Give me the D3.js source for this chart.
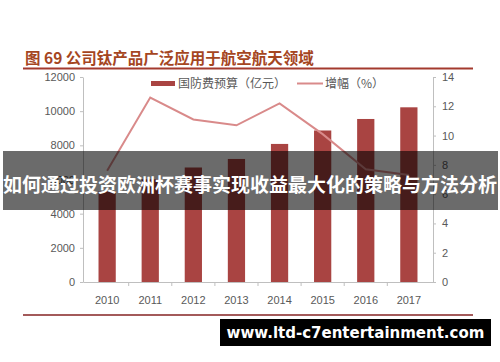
<!DOCTYPE html>
<html>
<head>
<meta charset="utf-8">
<script src="https://cdn.jsdelivr.net/npm/d3@7"></script>
<style>
  body { margin: 0; background: #fff; }
  svg { display: block; }
</style>
</head>
<body>
<div id="chart"></div>
<script>
// data
const years = ["2010", "2011", "2012", "2013", "2014", "2015", "2016", "2017"];
const budget = [5321, 6011, 6703, 7202, 8082, 8869, 9543, 10226];   // 国防费预算（亿元）
const growth = [7.6, 12.6, 11.1, 10.7, 12.2, 10.1, 7.7, 7.3];       // 增幅（%）
const leftTicks = [0, 2000, 4000, 6000, 8000, 10000, 12000];
const rightTicks = [0, 2, 4, 6, 8, 10, 12, 14];

const width = 500, height = 362;
const plot = { left: 83, right: 433, top: 77, bottom: 282 };
const numFont = "'Liberation Sans', Arial, sans-serif";
const cjkFont = "'Noto Sans CJK SC', sans-serif";

const svg = d3.select("#chart").append("svg")
  .attr("width", width)
  .attr("height", height);

const x = d3.scaleBand()
  .domain(years)
  .range([plot.left, plot.right])
  .paddingInner(0.6)
  .paddingOuter(0.36);

const yLeft = d3.scaleLinear().domain([0, 12000]).range([plot.bottom, plot.top]);
const yRight = d3.scaleLinear().domain([0, 14]).range([plot.bottom, plot.top]);

// title + rules
svg.append("text")
  .attr("x", 25).attr("y", 64)
  .style("font-family", cjkFont)
  .style("font-size", "15.5px")
  .style("font-weight", "bold")
  .attr("fill", "#a5461f")
  .text("图 69 公司钛产品广泛应用于航空航天领域");

svg.append("line")
  .attr("x1", 23).attr("x2", 473).attr("y1", 68.5).attr("y2", 68.5)
  .attr("stroke", "#a33a2e").attr("stroke-width", 2);

svg.append("line")
  .attr("x1", 23).attr("x2", 473).attr("y1", 315).attr("y2", 315)
  .attr("stroke", "#a35a5a").attr("stroke-width", 2);

// axes
function styleAxis(g) {
  g.selectAll("path, line").attr("stroke", "#bfbfbf");
  g.selectAll("text")
    .style("font-family", numFont)
    .style("font-size", "11px")
    .attr("fill", "#595959");
}

svg.append("g")
  .attr("transform", `translate(${plot.left},0)`)
  .call(d3.axisLeft(yLeft).tickValues(leftTicks).tickFormat(d3.format("d"))
    .tickSize(3).tickPadding(5).tickSizeOuter(0))
  .call(styleAxis);

svg.append("g")
  .attr("transform", `translate(${plot.right},0)`)
  .call(d3.axisRight(yRight).tickValues(rightTicks).tickFormat(d3.format("d"))
    .tickSize(3).tickPadding(6).tickSizeOuter(0))
  .call(styleAxis);

const xAxis = svg.append("g")
  .attr("transform", `translate(0,${plot.bottom})`)
  .call(d3.axisBottom(x).tickSize(0).tickPadding(14))
  .call(styleAxis);

// category separator ticks
const step = x.step();
xAxis.selectAll(".sep")
  .data(years.slice(0, -1))
  .enter().append("line")
  .attr("x1", d => x(d) + x.bandwidth() / 2 + step / 2)
  .attr("x2", d => x(d) + x.bandwidth() / 2 + step / 2)
  .attr("y1", 0).attr("y2", 4)
  .attr("stroke", "#bfbfbf");

// bars
svg.append("g").selectAll("rect")
  .data(budget)
  .enter().append("rect")
  .attr("x", (d, i) => x(years[i]))
  .attr("width", x.bandwidth())
  .attr("y", d => yLeft(d))
  .attr("height", d => yLeft(0) - yLeft(d))
  .attr("fill", "#a94442");

// growth line
const line = d3.line()
  .x((d, i) => x(years[i]) + x.bandwidth() / 2)
  .y(d => yRight(d));

svg.append("path")
  .datum(growth)
  .attr("d", line)
  .attr("fill", "none")
  .attr("stroke", "#d98a8a")
  .attr("stroke-width", 2);

// legend
const legend = svg.append("g").style("font-family", cjkFont).style("font-size", "12px");
legend.append("rect").attr("x", 151).attr("y", 81).attr("width", 24).attr("height", 5).attr("fill", "#a94442");
legend.append("text").attr("x", 178).attr("y", 88).attr("fill", "#595959").text("国防费预算（亿元）");
legend.append("line").attr("x1", 297).attr("x2", 323).attr("y1", 83.5).attr("y2", 83.5)
  .attr("stroke", "#d98a8a").attr("stroke-width", 2);
legend.append("text").attr("x", 325).attr("y", 88).attr("fill", "#595959").text("增幅（%）");

// overlay banner
svg.append("rect")
  .attr("x", 3).attr("y", 151).attr("width", 495).attr("height", 59)
  .attr("fill", "rgba(0,0,0,0.58)");
svg.append("text")
  .attr("x", 250).attr("y", 192)
  .attr("text-anchor", "middle")
  .style("font-family", cjkFont)
  .style("font-size", "19px")
  .style("font-weight", "bold")
  .attr("fill", "#fff")
  .text("如何通过投资欧洲杯赛事实现收益最大化的策略与方法分析");

// watermark
svg.append("rect")
  .attr("x", 220).attr("y", 319).attr("width", 271).attr("height", 27)
  .attr("fill", "#000");
svg.append("text")
  .attr("x", 355.5).attr("y", 338)
  .attr("text-anchor", "middle")
  .style("font-family", "'DejaVu Sans', sans-serif")
  .style("font-size", "15px")
  .style("font-weight", "bold")
  .attr("fill", "#fff")
  .text("www.ltd-c7entertainment.com");
</script>
</body>
</html>
